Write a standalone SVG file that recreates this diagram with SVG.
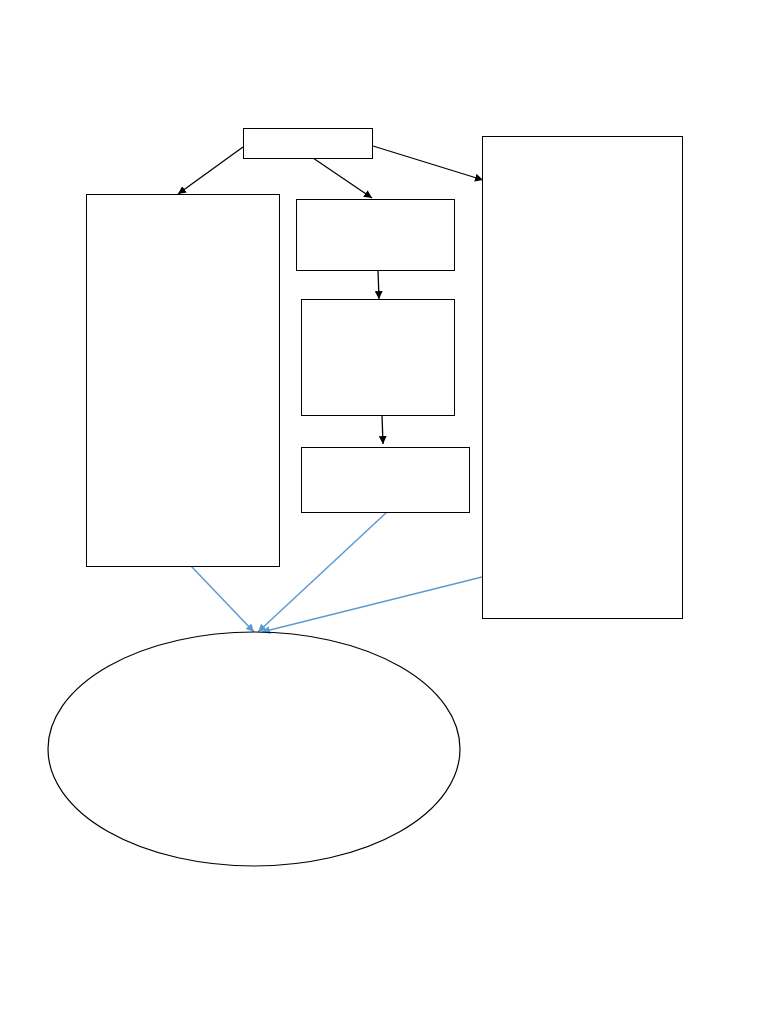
<svg xmlns="http://www.w3.org/2000/svg" width="768" height="1024" viewBox="0 0 768 1024">
<style>
.box{fill:#fff;stroke:#000;stroke-width:1}
.blk{stroke:#000;stroke-width:1.3;fill:none;marker-end:url(#ab)}
.blu{stroke:#5b9bd5;stroke-width:1.5;fill:none;marker-end:url(#au)}
</style>
<defs>
<marker id="ab" viewBox="0 0 10 10" refX="10" refY="5" markerWidth="8" markerHeight="8" markerUnits="userSpaceOnUse" orient="auto"><path d="M0,0 L10,5 L0,10 z" fill="#000"/></marker>
<marker id="au" viewBox="0 0 10 10" refX="10" refY="5" markerWidth="8" markerHeight="8" markerUnits="userSpaceOnUse" orient="auto"><path d="M0,0 L10,5 L0,10 z" fill="#5b9bd5"/></marker>
</defs>
<rect width="768" height="1024" fill="#fff"/>
<g id="connectors">
<line class="blk" x1="243" y1="147" x2="178" y2="194"/>
<line class="blk" x1="313" y1="158" x2="372" y2="198"/>
<line class="blk" x1="373" y1="146" x2="483" y2="180"/>
<line class="blk" x1="378" y1="270" x2="379" y2="299"/>
<line class="blk" x1="382" y1="415" x2="383" y2="444"/>
<line class="blu" x1="191" y1="566" x2="254" y2="632"/>
<line class="blu" x1="387" y1="512" x2="258" y2="632"/>
<line class="blu" x1="482" y1="577" x2="262" y2="632"/>
</g>
<g id="top"><rect class="box" x="243.5" y="128.5" width="129" height="30"/></g>
<g id="left"><rect class="box" x="86.5" y="194.5" width="193" height="372"/></g>
<g id="mid1"><rect class="box" x="296.5" y="199.5" width="158" height="71"/></g>
<g id="mid2"><rect class="box" x="301.5" y="299.5" width="153" height="116"/></g>
<g id="mid3"><rect class="box" x="301.5" y="447.5" width="168" height="65"/></g>
<g id="right"><rect class="box" x="482.5" y="136.5" width="200" height="482"/></g>
<g id="ellipse"><ellipse cx="254" cy="749" rx="206" ry="117" fill="none" stroke="#000" stroke-width="1.2"/></g>
</svg>
